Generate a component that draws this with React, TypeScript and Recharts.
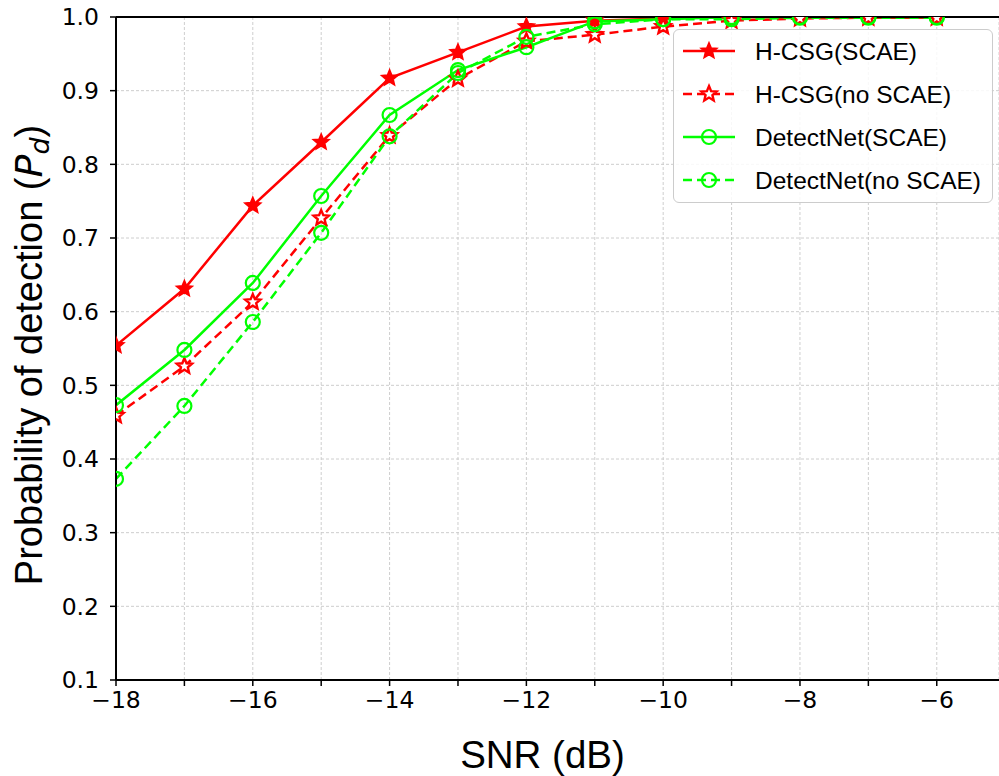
import React from 'react';
import { LineChart, Line, XAxis, YAxis, CartesianGrid, Legend, ReferenceLine } from 'recharts';

const snr = [-18, -17, -16, -15, -14, -13, -12, -11, -10, -9, -8, -7, -6];
const hcsgScae = [0.554, 0.631, 0.744, 0.830, 0.917, 0.952, 0.987, 0.995, 0.998, 1.0, 1.0, 1.0, 1.0];
const hcsgNoScae = [0.459, 0.526, 0.613, 0.727, 0.839, 0.916, 0.967, 0.976, 0.987, 0.995, 0.998, 0.999, 0.999];
const detScae = [0.473, 0.548, 0.639, 0.757, 0.867, 0.928, 0.959, 0.994, 0.997, 1.0, 1.0, 1.0, 1.0];
const detNoScae = [0.373, 0.472, 0.586, 0.707, 0.838, 0.924, 0.973, 0.990, 0.997, 0.997, 0.999, 0.999, 0.999];

const xTicks = [-18, -17, -16, -15, -14, -13, -12, -11, -10, -9, -8, -7, -6, -5];
const yTicks = [0.1, 0.2, 0.3, 0.4, 0.5, 0.6, 0.7, 0.8, 0.9, 1.0];

const seriesNames = ['H-CSG(SCAE)', 'H-CSG(no SCAE)', 'DetectNet(SCAE)', 'DetectNet(no SCAE)'];

const data = snr.map((s, i) => ({
  snr: s,
  a: hcsgScae[i],
  b: hcsgNoScae[i],
  c: detScae[i],
  d: detNoScae[i],
}));

type SeriesCfg = { key: string; name: string; color: string; dash?: string; marker: 'star' | 'starOpen' | 'circle' };
const series: SeriesCfg[] = [
  { key: 'a', name: seriesNames[0], color: '#ff0000', marker: 'star' },
  { key: 'b', name: seriesNames[1], color: '#ff0000', dash: '9 5', marker: 'starOpen' },
  { key: 'c', name: seriesNames[2], color: '#00ff00', marker: 'circle' },
  { key: 'd', name: seriesNames[3], color: '#00ff00', dash: '9 5', marker: 'circle' },
];

function starPoints(cx: number, cy: number, R: number, r: number) {
  const pts: string[] = [];
  for (let i = 0; i < 10; i++) {
    const ang = -Math.PI / 2 + (i * Math.PI) / 5;
    const rad = i % 2 === 0 ? R : r;
    pts.push(`${(cx + rad * Math.cos(ang)).toFixed(2)},${(cy + rad * Math.sin(ang)).toFixed(2)}`);
  }
  return pts.join(' ');
}

function Marker({ type, cx, cy, color }: { type: string; cx: number; cy: number; color: string }) {
  if (type === 'circle') {
    return <circle cx={cx} cy={cy} r={7} fill="none" stroke={color} strokeWidth={2.2} />;
  }
  if (type === 'starOpen') {
    return <polygon points={starPoints(cx, cy, 8, 3.6)} fill="#ffffff" stroke={color} strokeWidth={2.4} strokeLinejoin="miter" />;
  }
  return <polygon points={starPoints(cx, cy, 8, 3.6)} fill={color} stroke={color} strokeWidth={1.8} />;
}

const makeDot = (cfg: SeriesCfg) => (props: any) => {
  const { cx, cy, index } = props;
  if (cx == null || cy == null) return <g key={`${cfg.key}-${index}`} />;
  return (
    <g key={`${cfg.key}-${index}`}>
      <Marker type={cfg.marker} cx={cx} cy={cy} color={cfg.color} />
    </g>
  );
};

const LegendBox = () => {
  const rowY = [21, 64, 107, 150];
  return (
    <div
      style={{
        width: 320,
        height: 174,
        boxSizing: 'border-box',
        border: '1.5px solid #cccccc',
        borderRadius: 6,
        background: 'rgba(255,255,255,0.85)',
      }}
    >
      <svg width={317} height={171} style={{ display: 'block' }}>
        {series.map((s, i) => (
          <g key={s.key}>
            <line x1={9} x2={61} y1={rowY[i]} y2={rowY[i]} stroke={s.color} strokeWidth={2.5} strokeDasharray={s.dash} />
            <Marker type={s.marker} cx={35} cy={rowY[i]} color={s.color} />
            <text x={81} y={rowY[i] + 8.5} fontFamily="Liberation Sans, Arial, sans-serif" fontSize={24.5} fill="#000">
              {s.name}
            </text>
          </g>
        ))}
      </svg>
    </div>
  );
};

const YLabel = (props: any) => {
  const cx = 42;
  const cy = 355;
  return (
    <text
      x={cx}
      y={cy}
      transform={`rotate(-90, ${cx}, ${cy})`}
      textAnchor="middle"
      fontFamily="Liberation Sans, Arial, sans-serif"
      fontSize={38}
      fill="#000"
    >
      <tspan>Probability of detection (</tspan>
      <tspan fontFamily="DejaVu Sans" fontStyle="italic">P</tspan>
      <tspan fontFamily="DejaVu Sans" fontStyle="italic" fontSize={27} dy={7}>d</tspan>
      <tspan dy={-7}>)</tspan>
    </text>
  );
};

const XLabel = (props: any) => {
  const vb = props.viewBox || { x: 116, y: 680, width: 883, height: 96 };
  return (
    <text
      x={vb.x + vb.width / 2 - 15}
      y={768}
      textAnchor="middle"
      fontFamily="Liberation Sans, Arial, sans-serif"
      fontSize={38.5}
      fill="#000"
    >
      SNR (dB)
    </text>
  );
};

const tickStyle = { fontFamily: 'DejaVu Sans', fontSize: 23.5, fill: '#000' };

export default function App() {
  return (
    <div style={{ position: 'absolute', left: 0, top: 0, width: 999, height: 776, background: '#fff' }}>
      <LineChart width={999} height={776} data={data} margin={{ top: 17, right: 0, bottom: 0, left: 0 }}>
        <CartesianGrid stroke="#c8c8c8" strokeDasharray="3 2" strokeWidth={0.9} />
        <XAxis
          type="number"
          dataKey="snr"
          domain={[-18, -5.09]}
          ticks={xTicks}
          allowDataOverflow
          interval={0}
          tickFormatter={(v: number) => (v % 2 === 0 ? `\u2212${Math.abs(v)}` : '')}
          tick={tickStyle}
          tickSize={6}
          tickMargin={5}
          height={96}
          axisLine={{ stroke: '#000', strokeWidth: 2 }}
          tickLine={{ stroke: '#000', strokeWidth: 1.5 }}
          label={<XLabel />}
        />
        <YAxis
          type="number"
          domain={[0.1, 1.0]}
          ticks={yTicks}
          allowDataOverflow
          interval={0}
          tickFormatter={(v: number) => v.toFixed(1)}
          tick={tickStyle}
          tickSize={6}
          tickMargin={11}
          width={116}
          axisLine={{ stroke: '#000', strokeWidth: 2 }}
          tickLine={{ stroke: '#000', strokeWidth: 1.5 }}
          label={<YLabel />}
        />
        {series.map((s) => (
          <Line
            key={s.key}
            type="linear"
            dataKey={s.key}
            name={s.name}
            stroke={s.color}
            strokeWidth={2.5}
            strokeDasharray={s.dash}
            dot={makeDot(s)}
            activeDot={false}
            isAnimationActive={false}
          />
        ))}
        <ReferenceLine y={1.0} stroke="#000" strokeWidth={2} />
        <Legend
          layout="horizontal"
          verticalAlign="middle"
          align="center"
          content={() => <LegendBox />}
          wrapperStyle={{ left: 673, top: 29, width: 320, height: 174 }}
        />
      </LineChart>
    </div>
  );
}
